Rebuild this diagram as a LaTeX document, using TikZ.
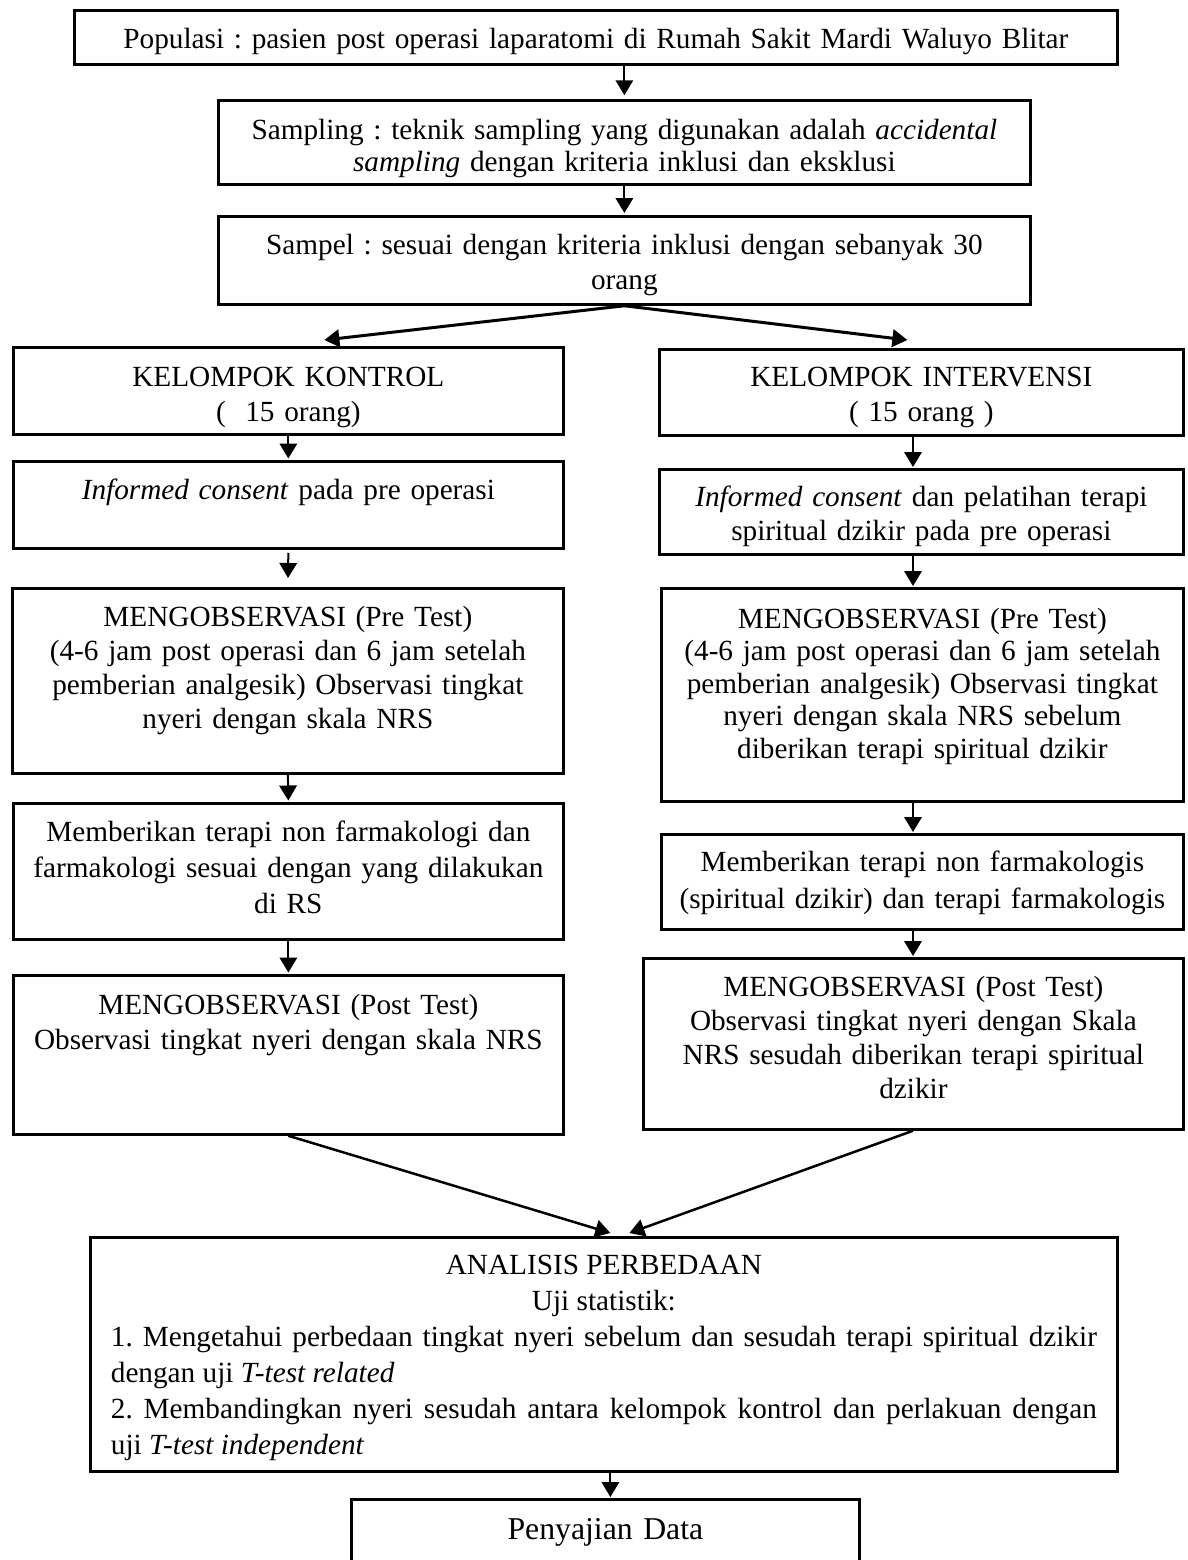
\documentclass[tikz,border=0pt]{standalone}
\usepackage{fontspec}
\setmainfont{Liberation Serif}
\usetikzlibrary{arrows.meta}
\frenchspacing

\begin{document}
\begin{tikzpicture}[
  x=0.4pt, y=-0.4pt,
  box/.style={draw, line width=1.1pt, anchor=north west, inner sep=0pt,
    align=center, font=\fontsize{11.7}{13.6}\selectfont},
  lh/.style={font=\fontsize{11.7}{#1}\selectfont},
  % width, height, first baseline, side padding (all in px)
  boxdim/.code n args={4}{%
    \pgfmathsetmacro\bxw{#1*0.4}\pgfmathsetmacro\bxt{(#1-#4)*0.4}%
    \pgfmathsetmacro\bxh{#3*0.4}\pgfmathsetmacro\bxd{(#2-#3)*0.4}%
    \edef\bxset{\noexpand\tikzset{minimum width=\bxw pt, text width=\bxt pt,
      text height=\bxh pt, text depth=\bxd pt}}\bxset},
  arr/.style={-{Triangle[width=7pt,length=6pt]}, line width=0.8pt}
]
\useasboundingbox (0,0) rectangle (1187,1560);

% top chain
\node[box, boxdim={1043}{54}{38}{20}] (pop) at (73,9)
  {Populasi : pasien post operasi laparatomi di Rumah Sakit Mardi Waluyo Blitar};
\node[box, lh=12.8pt, boxdim={812}{84}{39}{20}] (samp) at (217,99)
  {Sampling : teknik sampling yang digunakan adalah \textit{accidental}\\
   \textit{sampling} dengan kriteria inklusi dan eksklusi};
\node[box, lh=14pt, boxdim={812}{88}{38}{20}] (sampel) at (217,215)
  {Sampel : sesuai dengan kriteria inklusi dengan sebanyak 30\\ orang};

% left column
\node[box, lh=14pt, boxdim={550}{87}{39}{20}] (kon) at (12,346)
  {KELOMPOK KONTROL\\ (~~15 orang)};
\node[box, boxdim={550}{87}{38}{20}] (infK) at (12,460)
  {\textit{Informed consent} pada pre operasi};
\node[box, boxdim={551}{185}{38}{20}] (preK) at (11,587)
  {MENGOBSERVASI (Pre Test)\\ (4-6 jam post operasi dan 6 jam setelah\\
   pemberian analgesik) Observasi tingkat\\ nyeri dengan skala NRS};
\node[box, lh=14.4pt, boxdim={550}{136}{38}{20}] (memK) at (12,802)
  {Memberikan terapi non farmakologi dan\\ farmakologi sesuai dengan yang dilakukan\\ di RS};
\node[box, lh=14pt, boxdim={550}{159}{39}{20}] (postK) at (12,974)
  {MENGOBSERVASI (Post Test)\\ Observasi tingkat nyeri dengan skala NRS};

% right column
\node[box, lh=14pt, boxdim={524}{86}{37}{20}] (inv) at (658,348)
  {KELOMPOK INTERVENSI\\ ( 15 orang )};
\node[box, boxdim={524}{85}{37}{20}] (infI) at (658,468)
  {\textit{Informed consent} dan pelatihan terapi\\ spiritual dzikir pada pre operasi};
\node[box, lh=13pt, boxdim={522}{213}{40}{20}] (preI) at (660,587)
  {MENGOBSERVASI (Pre Test)\\ (4-6 jam post operasi dan 6 jam setelah\\
   pemberian analgesik) Observasi tingkat\\ nyeri dengan skala NRS sebelum\\
   diberikan terapi spiritual dzikir};
\node[box, lh=14.8pt, boxdim={522}{95}{37}{20}] (memI) at (660,833)
  {Memberikan terapi non farmakologis\\ (spiritual dzikir) dan terapi farmakologis};
\node[box, boxdim={540}{171}{38}{20}] (postI) at (642,957)
  {MENGOBSERVASI (Post Test)\\ Observasi tingkat nyeri dengan Skala\\
   NRS sesudah diberikan terapi spiritual\\ dzikir};

% bottom
\node[box, align=justify, lh=14.4pt, boxdim={1027}{234}{37}{41}] (ana) at (89,1236)
  {{\centering ANALISIS PERBEDAAN\\ Uji statistik:\par}
   1. Mengetahui perbedaan tingkat nyeri sebelum dan sesudah terapi spiritual dzikir\linebreak
   dengan uji \textit{T-test related}\\
   2. Membandingkan nyeri sesudah antara kelompok kontrol dan perlakuan dengan\linebreak
   uji \textit{T-test independent}};
\node[box, font=\fontsize{12.7}{15}\selectfont, boxdim={508}{120}{40}{20}] (pen) at (350,1498)
  {Penyajian Data};

\coordinate (colR) at (913,0);

\draw[arr, shorten >=1.5pt] (samp.north |- pop.south) -- (samp.north);
\draw[arr, shorten >=0.8pt] (samp.south) -- (sampel.north);
\draw[arr, line width=1.2pt] (sampel.south) -- ([xshift=14.4pt, yshift=2.4pt]kon.north);
\draw[arr, line width=1.2pt] (sampel.south) -- ([xshift=-5.6pt, yshift=3.2pt]inv.north);

\foreach \a/\b in {kon/infK, preK/memK, memK/postK}
  \draw[arr, shorten >=0.6pt] (\a.south) -- (\b.north);
\draw[arr, shorten <=1.2pt, shorten >=3.6pt] (infK.south) -- (preK.north);

\foreach \a/\b in {inv/infI, infI/preI, preI/memI, memI/postI}
  \draw[arr, shorten >=0.4pt] (\a.south -| colR) -- (\b.north -| colR);

\draw[arr, line width=1pt] (postK.south) -- ([xshift=2.6pt, yshift=1.2pt]ana.north);
\draw[arr, line width=1pt] (postI.south -| colR) -- ([xshift=10.2pt, yshift=1.2pt]ana.north);
\draw[arr, shorten >=0.4pt] ([xshift=2.6pt]ana.south) -- ([xshift=2.6pt]ana.south |- pen.north);
\end{tikzpicture}
\end{document}
